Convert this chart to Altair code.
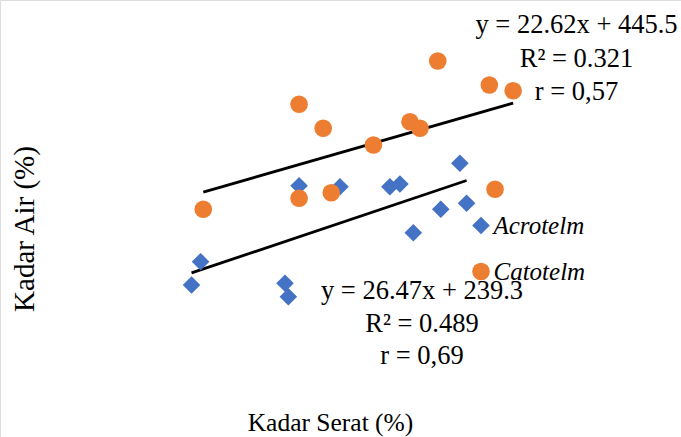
import altair as alt
import pandas as pd

# ---- data ----
series = ["Acrotelm", "Catotelm"]
acro_x = [6.27, 6.54, 9.06, 9.16, 9.48, 10.70, 12.19, 12.49, 12.89, 13.71, 14.28, 14.48]
acro_y = [376.8, 431.6, 380.8, 349.3, 610.3, 607.9, 607.9, 614.2, 499.8, 554.8, 662.9, 568.9]
cato_x = [6.62, 9.48, 9.48, 10.20, 10.44, 11.70, 12.79, 13.09, 13.62, 15.16, 15.87, 15.33]
cato_y = [554.8, 580.6, 801.6, 745.2, 593.8, 705.9, 760.7, 745.2, 903.4, 847.0, 833.6, 601.8]
trend_slope = [26.47, 22.62]
trend_intercept = [239.3, 445.5]
acro_labels = ["y = 26.47x + 239.3", "R\u00b2 = 0.489", "r = 0,69"]
cato_labels = ["y = 22.62x + 445.5", "R\u00b2 = 0.321", "r = 0,57"]

FONT = "Liberation Serif"
W, H = 681, 437
X_DOMAIN = [0.552, 20.881]
Y_DOMAIN = [19.5, 1046.8]

pts = pd.DataFrame({
    "x": acro_x + cato_x,
    "y": acro_y + cato_y,
    "s": [series[0]] * len(acro_x) + [series[1]] * len(cato_x),
})

xs = [acro_x, cato_x]
line_rows = []
for i, name in enumerate(series):
    for xv in (min(xs[i]), max(xs[i])):
        line_rows.append({"s": name, "x": xv, "y": trend_slope[i] * xv + trend_intercept[i]})
lines = pd.DataFrame(line_rows)

xsc = alt.Scale(domain=X_DOMAIN, nice=False, zero=False)
ysc = alt.Scale(domain=Y_DOMAIN, nice=False, zero=False)

xaxis = alt.Axis(domain=False, ticks=False, labels=False, grid=False,
                 title="Kadar Serat (%)", titleFont=FONT, titleFontSize=25.5,
                 titleFontWeight="normal", titleColor="black",
                 titleX=330, titleY=-7, titleAlign="center", titleBaseline="alphabetic")
yaxis = alt.Axis(domain=False, ticks=False, labels=False, grid=False,
                 title="Kadar Air (%)", titleFont=FONT, titleFontSize=29,
                 titleFontWeight="normal", titleColor="black",
                 titleX=33.5, titleY=228.5, titleAngle=-90, titleAlign="center",
                 titleBaseline="alphabetic")

trend = alt.Chart(lines).mark_line(color="black", strokeWidth=2.8).encode(
    x=alt.X("x:Q", scale=xsc, axis=xaxis),
    y=alt.Y("y:Q", scale=ysc, axis=yaxis),
    detail="s:N",
)

points = alt.Chart(pts).mark_point(filled=True, opacity=1, size=310).encode(
    x=alt.X("x:Q", scale=xsc),
    y=alt.Y("y:Q", scale=ysc),
    color=alt.Color("s:N", scale=alt.Scale(domain=series, range=["#4472C4", "#ED7D31"]),
                    legend=alt.Legend(title=None, orient="none", legendX=468.5, legendY=213,
                                      labelFont=FONT, labelFontSize=25, labelFontStyle="italic",
                                      labelColor="black", symbolSize=310, rowPadding=20,
                                      labelOffset=0, labelLimit=0, symbolStrokeWidth=0)),
    shape=alt.Shape("s:N", scale=alt.Scale(domain=series, range=["diamond", "circle"]),
                    legend=None),
)

texts = []
for i, t in enumerate(cato_labels):
    texts.append(alt.Chart().mark_text(font=FONT, fontSize=26.5, color="black",
                                       align="center", baseline="alphabetic").encode(
        x=alt.value(576.5), y=alt.value(33 + 33.5 * i), text=alt.value(t)))
for i, t in enumerate(acro_labels):
    texts.append(alt.Chart().mark_text(font=FONT, fontSize=26.5, color="black",
                                       align="center", baseline="alphabetic").encode(
        x=alt.value(422), y=alt.value(299 + 32.5 * i), text=alt.value(t)))

chart = alt.layer(trend, points, *texts).properties(
    width=W, height=H, padding=0,
    autosize=alt.AutoSizeParams(type="none"),
).configure_view(stroke=None).configure(background="white")

chart.save("out.html", embed_options={"renderer": "svg", "actions": False})
